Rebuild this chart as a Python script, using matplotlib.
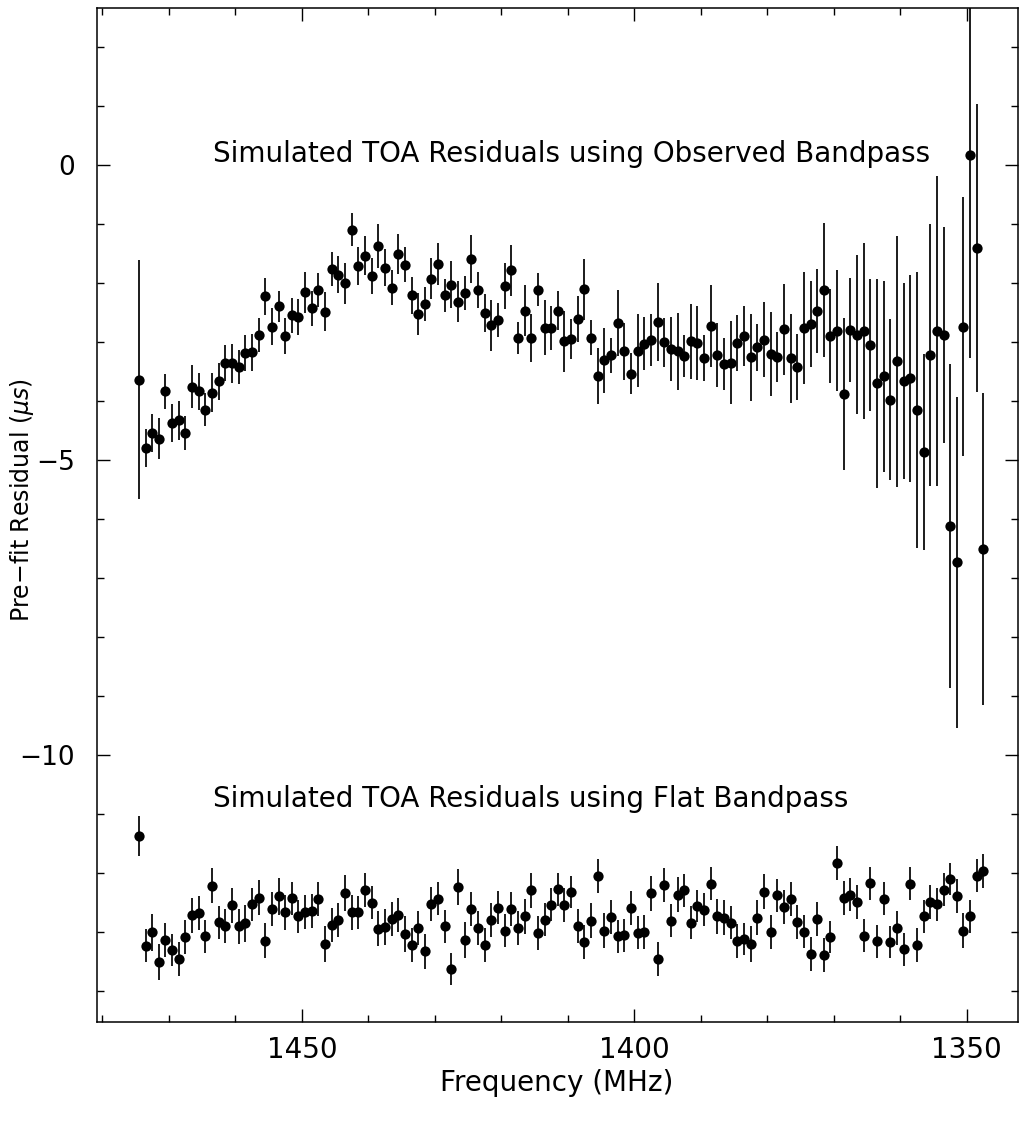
import matplotlib
matplotlib.use("Agg")
import matplotlib.pyplot as plt
from matplotlib.ticker import MultipleLocator, FixedLocator

# ---- data ----
freq_mhz = [
    1474.5, 1473.5, 1472.5, 1471.5, 1470.5, 1469.5, 1468.5, 1467.5, 1466.5, 1465.5,
    1464.5, 1463.5, 1462.5, 1461.5, 1460.5, 1459.5, 1458.5, 1457.5, 1456.5, 1455.5,
    1454.5, 1453.5, 1452.5, 1451.5, 1450.5, 1449.5, 1448.5, 1447.5, 1446.5, 1445.5,
    1444.5, 1443.5, 1442.5, 1441.5, 1440.5, 1439.5, 1438.5, 1437.5, 1436.5, 1435.5,
    1434.5, 1433.5, 1432.5, 1431.5, 1430.5, 1429.5, 1428.5, 1427.5, 1426.5, 1425.5,
    1424.5, 1423.5, 1422.5, 1421.5, 1420.5, 1419.5, 1418.5, 1417.5, 1416.5, 1415.5,
    1414.5, 1413.5, 1412.5, 1411.5, 1410.5, 1409.5, 1408.5, 1407.5, 1406.5, 1405.5,
    1404.5, 1403.5, 1402.5, 1401.5, 1400.5, 1399.5, 1398.5, 1397.5, 1396.5, 1395.5,
    1394.5, 1393.5, 1392.5, 1391.5, 1390.5, 1389.5, 1388.5, 1387.5, 1386.5, 1385.5,
    1384.5, 1383.5, 1382.5, 1381.5, 1380.5, 1379.5, 1378.5, 1377.5, 1376.5, 1375.5,
    1374.5, 1373.5, 1372.5, 1371.5, 1370.5, 1369.5, 1368.5, 1367.5, 1366.5, 1365.5,
    1364.5, 1363.5, 1362.5, 1361.5, 1360.5, 1359.5, 1358.5, 1357.5, 1356.5, 1355.5,
    1354.5, 1353.5, 1352.5, 1351.5, 1350.5, 1349.5, 1348.5, 1347.5,
]

observed_resid = [
    -3.64, -4.80, -4.54, -4.64, -3.84, -4.38, -4.33, -4.55, -3.76, -3.84,
    -4.15, -3.86, -3.67, -3.36, -3.36, -3.43, -3.19, -3.18, -2.89, -2.23,
    -2.74, -2.40, -2.90, -2.55, -2.58, -2.16, -2.43, -2.12, -2.49, -1.76,
    -1.86, -2.01, -1.10, -1.71, -1.54, -1.88, -1.38, -1.74, -2.08, -1.51,
    -1.69, -2.21, -2.53, -2.36, -1.93, -1.68, -2.21, -2.03, -2.32, -2.17,
    -1.59, -2.12, -2.51, -2.72, -2.63, -2.05, -1.79, -2.93, -2.47, -2.93,
    -2.12, -2.76, -2.76, -2.47, -2.99, -2.95, -2.61, -2.11, -2.93, -3.58,
    -3.31, -3.23, -2.68, -3.16, -3.54, -3.15, -3.03, -2.97, -2.66, -3.01,
    -3.12, -3.16, -3.24, -2.99, -3.02, -3.28, -2.73, -3.22, -3.38, -3.35,
    -3.02, -2.90, -3.26, -3.09, -2.96, -3.21, -3.26, -2.79, -3.28, -3.43,
    -2.76, -2.69, -2.48, -2.12, -2.90, -2.81, -3.89, -2.80, -2.88, -2.81,
    -3.05, -3.70, -3.58, -3.98, -3.33, -3.66, -3.62, -4.15, -4.87, -3.22,
    -2.81, -2.88, -6.12, -6.74, -2.74, 0.17, -1.41, -6.51,
]
observed_err = [
    2.03, 0.32, 0.32, 0.35, 0.30, 0.32, 0.33, 0.29, 0.36, 0.31,
    0.28, 0.33, 0.31, 0.30, 0.33, 0.29, 0.30, 0.32, 0.29, 0.31,
    0.31, 0.27, 0.31, 0.30, 0.30, 0.35, 0.30, 0.29, 0.33, 0.29,
    0.31, 0.34, 0.28, 0.32, 0.33, 0.30, 0.37, 0.31, 0.30, 0.34,
    0.29, 0.31, 0.36, 0.29, 0.35, 0.35, 0.28, 0.40, 0.35, 0.29,
    0.41, 0.31, 0.32, 0.43, 0.29, 0.39, 0.43, 0.27, 0.43, 0.41,
    0.28, 0.47, 0.37, 0.33, 0.52, 0.34, 0.39, 0.52, 0.30, 0.48,
    0.55, 0.30, 0.56, 0.48, 0.35, 0.62, 0.45, 0.44, 0.66, 0.41,
    0.55, 0.65, 0.35, 0.64, 0.62, 0.39, 0.69, 0.54, 0.44, 0.71,
    0.48, 0.51, 0.74, 0.40, 0.64, 0.71, 0.42, 0.77, 0.75, 0.56,
    0.95, 0.73, 0.71, 1.14, 0.79, 1.03, 1.29, 0.88, 1.35, 1.49,
    1.12, 1.77, 1.62, 1.37, 2.13, 1.66, 1.76, 2.34, 1.66, 2.22,
    2.63, 1.83, 2.75, 2.81, 2.20, 3.45, 2.44, 2.65,
]

flat_resid = [
    -11.38, -13.24, -13.01, -13.51, -13.14, -13.31, -13.46, -13.09, -12.72, -12.68,
    -13.08, -12.22, -12.84, -12.90, -12.55, -12.91, -12.86, -12.53, -12.42, -13.15,
    -12.61, -12.40, -12.67, -12.43, -12.74, -12.67, -12.65, -12.44, -13.21, -12.89,
    -12.80, -12.34, -12.67, -12.67, -12.29, -12.51, -12.95, -12.92, -12.78, -12.71,
    -13.04, -13.23, -12.93, -13.33, -12.53, -12.44, -12.91, -13.63, -12.24, -13.14,
    -12.61, -12.93, -13.23, -12.80, -12.59, -12.98, -12.61, -12.93, -12.74, -12.30,
    -13.02, -12.80, -12.54, -12.28, -12.54, -12.33, -12.90, -13.18, -12.81, -12.06,
    -12.98, -12.75, -13.08, -13.06, -12.60, -13.02, -13.01, -12.35, -13.46, -12.21,
    -12.81, -12.37, -12.30, -12.85, -12.56, -12.63, -12.19, -12.74, -12.76, -12.85,
    -13.16, -13.12, -13.21, -12.76, -12.32, -13.00, -12.38, -12.58, -12.44, -12.83,
    -13.00, -13.38, -12.78, -13.40, -13.09, -11.84, -12.43, -12.37, -12.50, -13.07,
    -12.18, -13.16, -12.44, -13.17, -12.93, -13.30, -12.19, -13.23, -12.74, -12.50,
    -12.53, -12.29, -12.10, -12.40, -12.98, -12.74, -12.05, -11.97,
]
flat_err = [
    0.34, 0.28, 0.31, 0.30, 0.28, 0.27, 0.29, 0.29, 0.30, 0.29,
    0.28, 0.30, 0.28, 0.29, 0.30, 0.30, 0.31, 0.28, 0.29, 0.30,
    0.29, 0.31, 0.30, 0.28, 0.28, 0.29, 0.29, 0.29, 0.30, 0.29,
    0.29, 0.30, 0.30, 0.28, 0.29, 0.28, 0.30, 0.30, 0.29, 0.29,
    0.30, 0.29, 0.29, 0.30, 0.29, 0.28, 0.28, 0.27, 0.30, 0.30,
    0.29, 0.29, 0.29, 0.29, 0.28, 0.28, 0.29, 0.29, 0.29, 0.29,
    0.29, 0.28, 0.28, 0.28, 0.29, 0.27, 0.29, 0.29, 0.29, 0.29,
    0.29, 0.28, 0.28, 0.28, 0.29, 0.28, 0.29, 0.29, 0.29, 0.29,
    0.28, 0.29, 0.28, 0.28, 0.27, 0.28, 0.28, 0.29, 0.30, 0.28,
    0.29, 0.27, 0.30, 0.29, 0.30, 0.29, 0.28, 0.29, 0.29, 0.29,
    0.28, 0.29, 0.29, 0.29, 0.27, 0.29, 0.29, 0.28, 0.29, 0.28,
    0.28, 0.28, 0.28, 0.27, 0.29, 0.28, 0.28, 0.29, 0.28, 0.29,
    0.28, 0.28, 0.27, 0.29, 0.29, 0.28, 0.28, 0.28,
]

x_major_ticks = [1450, 1400, 1350]
y_major_ticks = [0, -5, -10]
y_tick_labels = ["0", "\u22125", "\u221210"]
label_top = "Simulated TOA Residuals using Observed Bandpass"
label_bottom = "Simulated TOA Residuals using Flat Bandpass"
xlabel = "Frequency (MHz)"
ylabel = r"Pre$-$fit Residual ($\mu s$)"

# ---- figure ----
W, H = 1020, 1126
fig = plt.figure(figsize=(W / 100, H / 100), dpi=100)
plt.rcParams['font.family'] = ['DejaVu Sans']
plt.rcParams['mathtext.fontset'] = 'dejavusans'

ax = fig.add_axes([97 / W, 1 - 1022 / H, (1018 - 97) / W, (1022 - 8) / H])

style = dict(fmt='o', color='black', ms=7.4, elinewidth=1.25, capsize=2.9,
             capthick=1.2, mew=0)
ax.errorbar(freq_mhz, observed_resid, yerr=observed_err, **style)
ax.errorbar(freq_mhz, flat_resid, yerr=flat_err, **style)

ax.set_xlim(1480.8, 1342.3)
ax.set_ylim(-14.53, 2.66)

ax.xaxis.set_major_locator(FixedLocator(x_major_ticks))
ax.xaxis.set_minor_locator(MultipleLocator(10))
ax.yaxis.set_major_locator(FixedLocator(y_major_ticks))
ax.set_yticklabels(y_tick_labels)
ax.yaxis.set_minor_locator(MultipleLocator(1))

ax.tick_params(which='both', direction='in', top=True, right=True,
               width=1.0, colors='black')
ax.tick_params(which='major', length=9.5)
ax.tick_params(which='minor', length=5)
ax.tick_params(axis='x', which='major', labelsize=20, pad=10)
ax.tick_params(axis='y', which='major', labelsize=19, pad=16)
for s in ax.spines.values():
    s.set_linewidth(1.1)

txt_kw = dict(fontsize=20, color='black', ha='left', va='baseline')
ax.text(1463.4, 0.05, label_top, **txt_kw)
ax.text(1463.4, -10.88, label_bottom, **txt_kw)

fig.text(557 / W, 1 - 1083 / H, xlabel, fontsize=20, ha='center', va='center')
fig.text(22 / W, 1 - 500 / H, ylabel, fontsize=17, ha='center', va='center',
         rotation=90)

fig.savefig('out.png', dpi=100, facecolor='white')
